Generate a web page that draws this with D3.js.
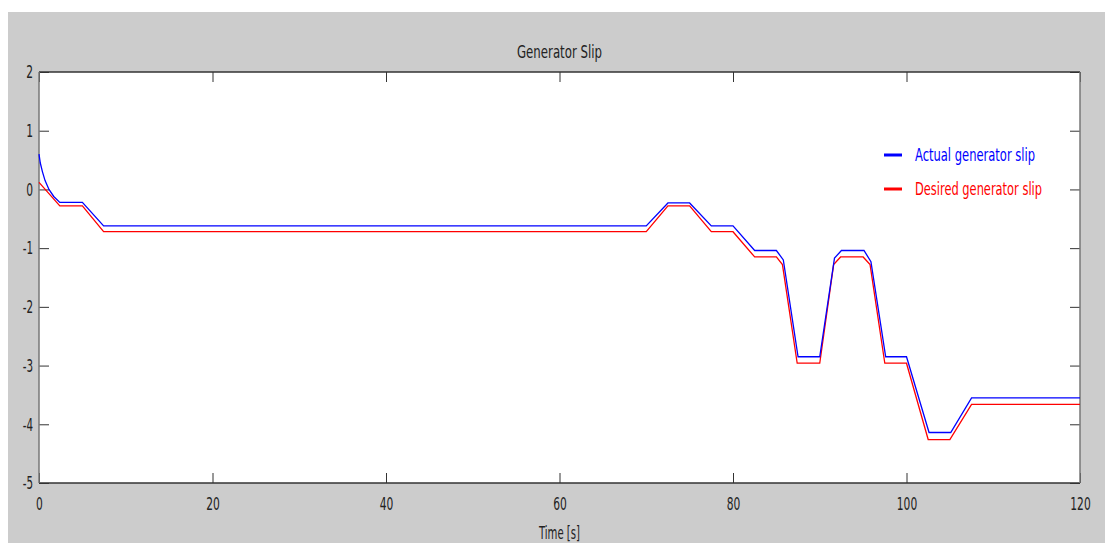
<!DOCTYPE html>
<html>
<head>
<meta charset="utf-8">
<script src="https://cdn.jsdelivr.net/npm/d3@7"></script>
<style>
  body { margin: 0; background: #fff; }
  svg text { font-family: "DejaVu Sans Condensed", "Liberation Sans Narrow", sans-serif; }
</style>
</head>
<body>
<svg width="1105" height="543"></svg>
<script>
// values
const timeActual = [0, 0.15, 0.4, 0.7, 1.15, 1.7, 2.4, 5.0, 7.45, 70.0, 72.5, 75.0, 77.5, 80.0, 82.5, 85.0, 85.8, 87.5, 90.0, 91.7, 92.5, 95.1, 95.9, 97.6, 100.0, 102.6, 105.1, 107.5, 120];
const slipActual = [0.6, 0.45, 0.3, 0.15, 0.0, -0.12, -0.22, -0.22, -0.62, -0.62, -0.23, -0.23, -0.62, -0.62, -1.04, -1.04, -1.2, -2.85, -2.85, -1.17, -1.04, -1.04, -1.23, -2.85, -2.85, -4.14, -4.14, -3.55, -3.55];

const timeDesired = [0, 2.4, 5.0, 7.45, 70.0, 72.5, 75.0, 77.5, 80.0, 82.5, 85.0, 85.7, 87.4, 90.0, 91.6, 92.4, 95.0, 95.8, 97.5, 100.0, 102.5, 105.0, 107.5, 120];
const slipDesired = [0.12, -0.28, -0.28, -0.72, -0.72, -0.28, -0.28, -0.72, -0.72, -1.15, -1.15, -1.28, -2.96, -2.96, -1.28, -1.15, -1.15, -1.28, -2.96, -2.96, -4.26, -4.26, -3.66, -3.66];

const xTicks = [0, 20, 40, 60, 80, 100, 120];
const yTicks = [-5, -4, -3, -2, -1, 0, 1, 2];
const seriesNames = ["Actual generator slip", "Desired generator slip"];
const seriesColors = ["#0000ff", "#ff0000"];

const margin = {top: 72, right: 25, bottom: 60, left: 39};
const width = 1080 - margin.left;
const height = 483 - margin.top;

const svg = d3.select("svg");

// gray figure background
svg.append("rect")
    .attr("x", 8).attr("y", 12)
    .attr("width", 1105 - 8).attr("height", 543 - 12)
    .attr("fill", "#cccccc");

const g = svg.append("g")
    .attr("transform", `translate(${margin.left}, ${margin.top})`);

g.append("rect")
    .attr("width", width).attr("height", height)
    .attr("fill", "#ffffff");

const x = d3.scaleLinear().domain([0, 120]).range([0, width]);
const y = d3.scaleLinear().domain([-5, 2]).range([height, 0]);

const fmt = d => String(d);  // plain hyphen minus like the original

// axes, ticks pointing inwards
const xAxis = g.append("g")
    .attr("transform", `translate(0, ${height})`)
    .call(d3.axisBottom(x).tickValues(xTicks).tickSize(-10).tickPadding(14).tickFormat(fmt));
const yAxis = g.append("g")
    .call(d3.axisLeft(y).tickValues(yTicks).tickSize(-10).tickPadding(6).tickFormat(fmt));
const xTop = g.append("g")
    .call(d3.axisTop(x).tickValues(xTicks).tickSize(-10).tickFormat(""));
const yRight = g.append("g")
    .attr("transform", `translate(${width}, 0)`)
    .call(d3.axisRight(y).tickValues(yTicks).tickSize(-10).tickFormat(""));

[xAxis, yAxis, xTop, yRight].forEach(a => {
    a.select(".domain").remove();
    a.selectAll("line").attr("stroke", "#333");
    a.selectAll("text")
        .attr("font-size", "18px")
        .attr("fill", "#222")
        .style("font-family", "'DejaVu Sans Condensed', sans-serif")
        .attr("textLength", function() {
            const s = this.textContent;
            return s.replace("-", "").length * 6.8 + (s.includes("-") ? 3.5 : 0);
        })
        .attr("lengthAdjust", "spacingAndGlyphs");
});

// plot border
g.append("line").attr("x1", 0).attr("x2", width).attr("y1", 0).attr("y2", 0)
    .attr("stroke", "#333").attr("stroke-width", 1.5);
g.append("line").attr("x1", 0).attr("x2", width).attr("y1", height).attr("y2", height)
    .attr("stroke", "#333").attr("stroke-width", 1.5);
g.append("line").attr("x1", 0).attr("x2", 0).attr("y1", 0).attr("y2", height)
    .attr("stroke", "#777").attr("stroke-width", 1.5);
g.append("line").attr("x1", width).attr("x2", width).attr("y1", 0).attr("y2", height)
    .attr("stroke", "#777").attr("stroke-width", 1.5);

const line = d3.line()
    .x(d => x(d[0]))
    .y(d => y(d[1]));

const desired = timeDesired.map((t, i) => [t, slipDesired[i]]);
const actual = timeActual.map((t, i) => [t, slipActual[i]]);

g.append("path")
    .datum(desired)
    .attr("d", line)
    .attr("fill", "none")
    .attr("stroke", seriesColors[1])
    .attr("stroke-width", 1.3);

g.append("path")
    .datum(actual)
    .attr("d", line)
    .attr("fill", "none")
    .attr("stroke", seriesColors[0])
    .attr("stroke-width", 1.3);

// title and x label
svg.append("text")
    .attr("x", margin.left + width / 2)
    .attr("y", 58)
    .attr("text-anchor", "middle")
    .attr("font-size", "17px")
    .attr("textLength", 85)
    .attr("lengthAdjust", "spacingAndGlyphs")
    .attr("fill", "#222")
    .text("Generator Slip");

svg.append("text")
    .attr("x", margin.left + width / 2)
    .attr("y", 539)
    .attr("text-anchor", "middle")
    .attr("font-size", "17px")
    .attr("textLength", 41)
    .attr("lengthAdjust", "spacingAndGlyphs")
    .attr("fill", "#222")
    .text("Time [s]");

// legend
const legendWidths = [120, 127];
const legend = svg.append("g").attr("transform", "translate(884, 155)");
seriesNames.forEach((name, i) => {
    const row = legend.append("g").attr("transform", `translate(0, ${i * 34})`);
    row.append("line")
        .attr("x1", 0).attr("x2", 18)
        .attr("stroke", seriesColors[i]).attr("stroke-width", 3);
    row.append("text")
        .attr("x", 31).attr("y", 6)
        .attr("font-size", "18px")
        .attr("textLength", legendWidths[i])
        .attr("lengthAdjust", "spacingAndGlyphs")
        .attr("fill", seriesColors[i])
        .text(name);
});
</script>
</body>
</html>
